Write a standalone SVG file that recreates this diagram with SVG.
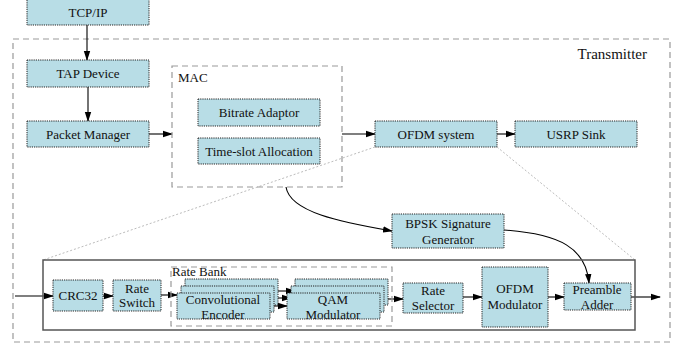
<svg xmlns="http://www.w3.org/2000/svg" width="681" height="347" viewBox="0 0 681 347">
<defs>
<marker id="ah" markerWidth="10" markerHeight="8" refX="9" refY="4" orient="auto" markerUnits="userSpaceOnUse">
<path d="M0,0.8 L10,4 L0,7.2 Z" fill="#000"/>
</marker>
<style>
.box{fill:#b8dde6;stroke:#222;stroke-width:1;stroke-dasharray:1.2 1}
.grp{fill:none;stroke:#999;stroke-width:1.2;stroke-dasharray:6 4}
text{font-family:'Liberation Serif','DejaVu Serif',serif;font-size:13px;fill:#111}
.t{text-anchor:middle}
.c{fill:none;stroke:#000;stroke-width:1.1;marker-end:url(#ah)}
.g{fill:none;stroke:#aaa;stroke-width:0.8;stroke-dasharray:2 2}
</style>
</defs>
<rect width="681" height="347" fill="#fff"/>

<g id="transmitter">
<rect class="grp" x="13" y="39" width="657" height="303"/>
<text x="647" y="59" style="font-size:15px;text-anchor:end">Transmitter</text>
</g>

<g id="connectors">
<line class="g" x1="375" y1="147" x2="43" y2="260"/>
<line class="g" x1="497" y1="147" x2="635" y2="260"/>
<line class="c" x1="87" y1="25" x2="87" y2="60"/>
<line class="c" x1="88" y1="87" x2="88" y2="121"/>
<line class="c" x1="149" y1="134" x2="172" y2="134"/>
<line class="c" x1="342" y1="134" x2="375" y2="134"/>
<line class="c" x1="497" y1="134" x2="515" y2="134"/>
<path class="c" d="M286,187 C290,212 340,222 392,231"/>
<path class="c" d="M504,230 C560,234 586,248 589,283"/>
<line class="c" x1="15" y1="296" x2="53" y2="296"/>
<line class="c" x1="103" y1="296" x2="113" y2="296"/>
<line class="c" x1="161" y1="295" x2="177" y2="295"/>
<line class="c" x1="277" y1="291" x2="295" y2="291"/>
<line class="c" x1="273" y1="298" x2="291" y2="298"/>
<line class="c" x1="270" y1="306" x2="287" y2="306"/>
<line class="c" x1="384" y1="299" x2="403" y2="299"/>
<line class="c" x1="463" y1="297" x2="482" y2="297"/>
<line class="c" x1="548" y1="297" x2="564" y2="297"/>
<line class="c" x1="631" y1="297" x2="660" y2="297"/>
</g>

<g id="tcpip">
<rect class="box" x="27" y="-2" width="122" height="27"/>
<text class="t" x="88" y="17">TCP/IP</text>
</g>
<g id="tap">
<rect class="box" x="27" y="60" width="122" height="27"/>
<text class="t" x="88" y="78">TAP Device</text>
</g>
<g id="packet">
<rect class="box" x="27" y="121" width="122" height="26"/>
<text class="t" x="88" y="139">Packet Manager</text>
</g>

<g id="mac">
<rect class="grp" x="172" y="66" width="170" height="121"/>
<text x="178" y="82">MAC</text>
</g>
<g id="bitrate">
<rect class="box" x="198" y="99" width="122" height="27"/>
<text class="t" x="259" y="117">Bitrate Adaptor</text>
</g>
<g id="timeslot">
<rect class="box" x="198" y="138" width="122" height="26"/>
<text class="t" x="259" y="156">Time-slot Allocation</text>
</g>

<g id="ofdmsys">
<rect class="box" x="375" y="121" width="122" height="26"/>
<text class="t" x="436" y="139">OFDM system</text>
</g>
<g id="usrp">
<rect class="box" x="515" y="121" width="122" height="26"/>
<text class="t" x="576" y="139">USRP Sink</text>
</g>

<g id="bpsk">
<rect class="box" x="392" y="214" width="112" height="34"/>
<text class="t" x="448" y="228">BPSK Signature</text>
<text class="t" x="448" y="244">Generator</text>
</g>

<g id="ofdmdetail">
<rect x="43" y="260" width="592" height="70" fill="none" stroke="#555" stroke-width="1.5"/>
</g>

<g id="crc32">
<rect class="box" x="53" y="280" width="50" height="31"/>
<text class="t" x="78" y="300">CRC32</text>
</g>
<g id="rateswitch">
<rect class="box" x="113" y="280" width="48" height="31"/>
<text class="t" x="137" y="293">Rate</text>
<text class="t" x="137" y="307">Switch</text>
</g>

<g id="ratebank">
<rect class="grp" x="171" y="267" width="221" height="59"/>
<text x="172" y="276">Rate Bank</text>
</g>
<g id="encoder">
<rect class="box" x="185" y="279" width="93" height="26"/>
<rect class="box" x="181" y="286" width="93" height="26"/>
<rect class="box" x="177" y="293" width="93" height="26"/>
<text class="t" x="223" y="304">Convolutional</text>
<text class="t" x="223" y="319">Encoder</text>
</g>
<g id="qam">
<rect class="box" x="295" y="279" width="93" height="26"/>
<rect class="box" x="291" y="286" width="93" height="26"/>
<rect class="box" x="287" y="293" width="93" height="26"/>
<text class="t" x="333" y="304">QAM</text>
<text class="t" x="333" y="319">Modulator</text>
</g>

<g id="rateselector">
<rect class="box" x="403" y="283" width="60" height="30"/>
<text class="t" x="433" y="295">Rate</text>
<text class="t" x="433" y="310">Selector</text>
</g>
<g id="ofdmmod">
<rect class="box" x="482" y="267" width="66" height="60"/>
<text class="t" x="515" y="293">OFDM</text>
<text class="t" x="515" y="309">Modulator</text>
</g>
<g id="preamble">
<rect class="box" x="564" y="283" width="67" height="27"/>
<text class="t" x="597" y="294">Preamble</text>
<text class="t" x="597" y="309">Adder</text>
</g>
</svg>
